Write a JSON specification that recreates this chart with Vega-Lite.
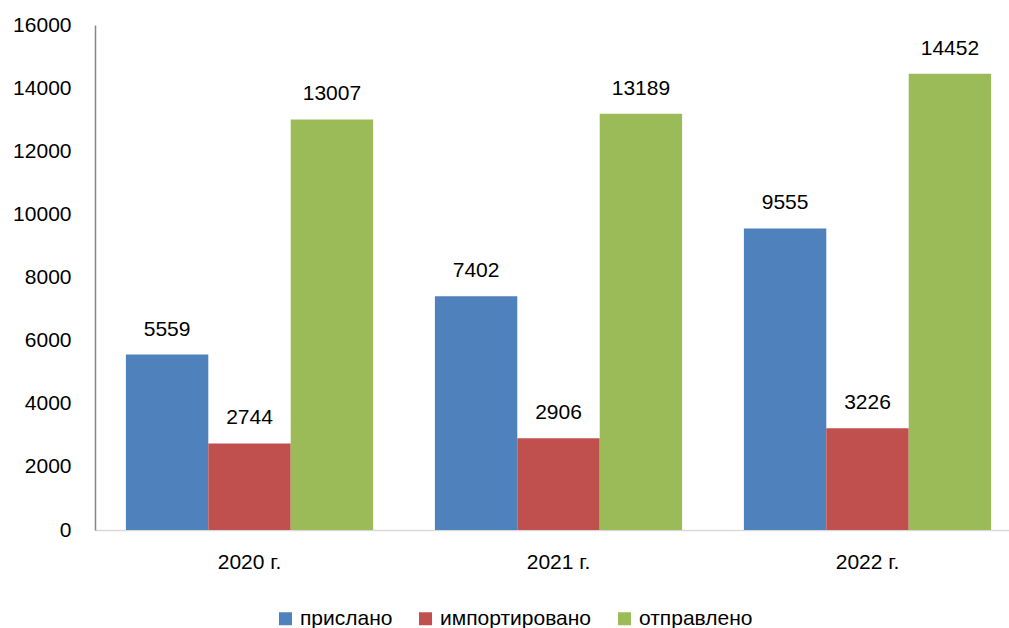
{
  "$schema": "https://vega.github.io/schema/vega-lite/v6.json",
  "autosize": "none",
  "width": 914,
  "height": 505,
  "padding": {"left": 95, "top": 25, "right": 0, "bottom": 98},
  "background": "white",
  "config": {
    "font": "Liberation Sans",
    "view": {"stroke": null}
  },
  "data": {
    "values": [
      {"year": "2020 г.", "series": "прислано", "value": 5559},
      {"year": "2020 г.", "series": "импортировано", "value": 2744},
      {"year": "2020 г.", "series": "отправлено", "value": 13007},
      {"year": "2021 г.", "series": "прислано", "value": 7402},
      {"year": "2021 г.", "series": "импортировано", "value": 2906},
      {"year": "2021 г.", "series": "отправлено", "value": 13189},
      {"year": "2022 г.", "series": "прислано", "value": 9555},
      {"year": "2022 г.", "series": "импортировано", "value": 3226},
      {"year": "2022 г.", "series": "отправлено", "value": 14452}
    ]
  },
  "encoding": {
    "x": {
      "field": "year",
      "type": "nominal",
      "sort": null,
      "scale": {"range": [0, 927], "paddingInner": 0.2, "paddingOuter": 0.1},
      "axis": {
        "title": null,
        "labelAngle": 0,
        "labelFontSize": 21,
        "labelColor": "#000000",
        "labelPadding": 21,
        "ticks": false,
        "domainColor": "#D9D9D9",
        "domainWidth": 1.5
      }
    },
    "xOffset": {
      "field": "series",
      "type": "nominal",
      "sort": ["прислано", "импортировано", "отправлено"],
      "scale": {"paddingInner": 0, "paddingOuter": 0}
    },
    "y": {
      "field": "value",
      "type": "quantitative",
      "scale": {"domain": [0, 16000]},
      "axis": {
        "title": null,
        "values": [0, 2000, 4000, 6000, 8000, 10000, 12000, 14000, 16000],
        "format": "d",
        "grid": false,
        "ticks": false,
        "labelFontSize": 21,
        "labelColor": "#000000",
        "labelPadding": 24,
        "domainColor": "#868686",
        "domainWidth": 1.5
      }
    }
  },
  "layer": [
    {
      "mark": {"type": "bar"},
      "encoding": {
        "color": {
          "field": "series",
          "type": "nominal",
          "sort": ["прислано", "импортировано", "отправлено"],
          "scale": {
            "domain": ["прислано", "импортировано", "отправлено"],
            "range": ["#4F81BD", "#C0504D", "#9BBB59"]
          },
          "legend": {
            "title": null,
            "orient": "none",
            "direction": "horizontal",
            "legendX": 180,
            "legendY": 583,
            "symbolType": "square",
            "symbolSize": 169,
            "symbolStrokeWidth": 0,
            "labelFontSize": 21,
            "labelColor": "#000000",
            "labelOffset": 4,
            "labelLimit": 400,
            "columnPadding": 22
          }
        }
      }
    },
    {
      "mark": {"type": "text", "baseline": "middle", "dy": -25, "fontSize": 21, "color": "#000000"},
      "encoding": {
        "text": {"field": "value", "type": "quantitative", "format": "d"}
      }
    }
  ]
}
